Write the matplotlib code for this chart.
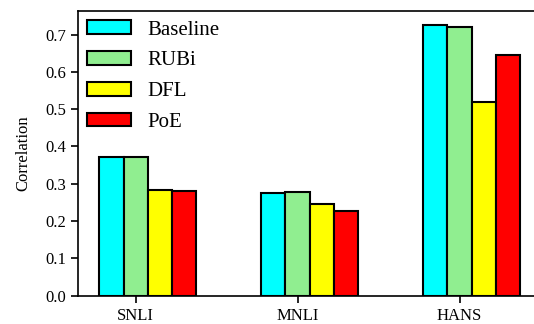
import matplotlib.pyplot as plt
import numpy as np

plt.switch_backend('Agg')
plt.rcParams['font.family'] = ['Liberation Serif', 'DejaVu Serif']

datasets = ['SNLI', 'MNLI', 'HANS']
methods = ['Baseline', 'RUBi', 'DFL', 'PoE']
baseline = [0.371, 0.274, 0.726]
rubi = [0.373, 0.279, 0.721]
dfl = [0.284, 0.245, 0.520]
poe = [0.281, 0.228, 0.646]
colors = ['cyan', 'lightgreen', 'yellow', 'red']

fig = plt.figure(figsize=(5.34, 3.24), dpi=100)
ax = fig.add_axes([0.1455, 0.0873, 0.858, 0.8787])

x = np.arange(len(datasets))
width = 0.15
for i, (vals, name, c) in enumerate(zip([baseline, rubi, dfl, poe], methods, colors)):
    ax.bar(x + (i - 1) * width, vals, width, color=c, edgecolor='black', linewidth=1.5, label=name)

ax.set_xlim(-0.358, 2.471)
ax.set_ylim(0, 0.763)
ax.set_xticks(x)
ax.set_xticklabels(datasets, fontsize=12)
ax.set_yticks(np.arange(0, 0.71, 0.1))
ax.set_yticklabels([f'{v:.1f}' for v in np.arange(0, 0.71, 0.1)], fontsize=12)
ax.tick_params(direction='out', length=5, width=1.2)
ax.set_ylabel('Correlation', fontsize=12, labelpad=10)
for s in ax.spines.values():
    s.set_linewidth(1.2)

ax.legend(loc='upper left', frameon=False, fontsize=15, handlelength=2.1,
          handleheight=0.65, handletextpad=0.8, labelspacing=0.55,
          borderaxespad=0.05)

plt.savefig('out.png', dpi=100)
